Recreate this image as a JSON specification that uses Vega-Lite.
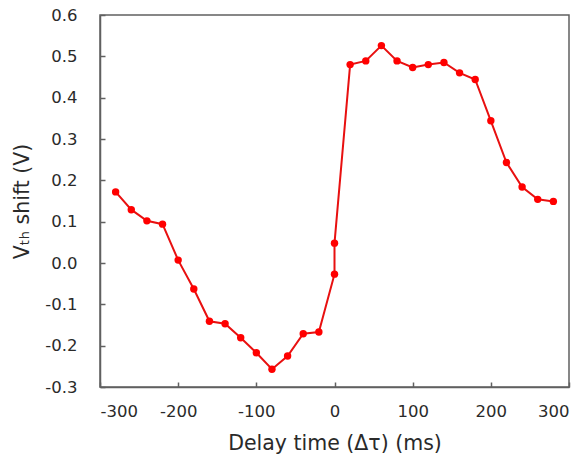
{
  "$schema": "https://vega.github.io/schema/vega-lite/v6.json",
  "width": 469,
  "height": 372,
  "autosize": "none",
  "padding": {"left": 100, "top": 15, "right": 18, "bottom": 75},
  "background": "white",
  "config": {
    "view": {"stroke": "#606060", "strokeWidth": 1.5},
    "axis": {"grid": false, "domainColor": "#606060", "tickColor": "#606060", "labelFont": "DejaVu Sans", "titleFont": "DejaVu Sans", "labelColor": "#2a2a2a", "titleColor": "#2a2a2a", "labelFontSize": 16.5, "titleFontSize": 20.5, "titleFontWeight": "normal", "domainWidth": 1.5, "tickWidth": 1.5}
  },
  "data": {
    "values": [
      {"delay": -280, "shift": 0.172},
      {"delay": -260, "shift": 0.129},
      {"delay": -240, "shift": 0.102},
      {"delay": -220, "shift": 0.094},
      {"delay": -200, "shift": 0.007},
      {"delay": -180, "shift": -0.063},
      {"delay": -160, "shift": -0.141},
      {"delay": -140, "shift": -0.147},
      {"delay": -120, "shift": -0.181},
      {"delay": -100, "shift": -0.217},
      {"delay": -80, "shift": -0.257},
      {"delay": -60, "shift": -0.225},
      {"delay": -40, "shift": -0.171},
      {"delay": -20, "shift": -0.167},
      {"delay": 0, "shift": -0.027},
      {"delay": 0, "shift": 0.048},
      {"delay": 20, "shift": 0.480},
      {"delay": 40, "shift": 0.489},
      {"delay": 60, "shift": 0.526},
      {"delay": 80, "shift": 0.489},
      {"delay": 100, "shift": 0.473},
      {"delay": 120, "shift": 0.480},
      {"delay": 140, "shift": 0.485},
      {"delay": 160, "shift": 0.460},
      {"delay": 180, "shift": 0.444},
      {"delay": 200, "shift": 0.344},
      {"delay": 220, "shift": 0.243},
      {"delay": 240, "shift": 0.184},
      {"delay": 260, "shift": 0.154},
      {"delay": 280, "shift": 0.149}
    ]
  },
  "encoding": {
    "x": {"field": "delay", "type": "quantitative", "scale": {"domain": [-300, 300], "nice": false},
      "axis": {"title": "Delay time (Δτ) (ms)", "values": [-300, -200, -100, 0, 100, 200, 300], "labelExpr": "replace(datum.label, '−', '-')", "tickSize": -5, "labelPadding": 21, "titlePadding": 14}},
    "y": {"field": "shift", "type": "quantitative", "scale": {"domain": [-0.3, 0.6], "nice": false, "zero": false},
      "axis": {"title": "Vₜₕ shift (V)", "values": [-0.3, -0.2, -0.1, 0, 0.1, 0.2, 0.3, 0.4, 0.5, 0.6], "format": ".1f", "labelExpr": "replace(datum.label, '−', '-')", "tickSize": -5, "labelPadding": 28, "titlePadding": 12}}
  },
  "layer": [
    {"mark": {"type": "line", "color": "#e81010", "strokeWidth": 2}, "encoding": {"order": {"value": 0}}},
    {"mark": {"type": "circle", "color": "#ff0000", "opacity": 1, "size": 55}}
  ]
}
